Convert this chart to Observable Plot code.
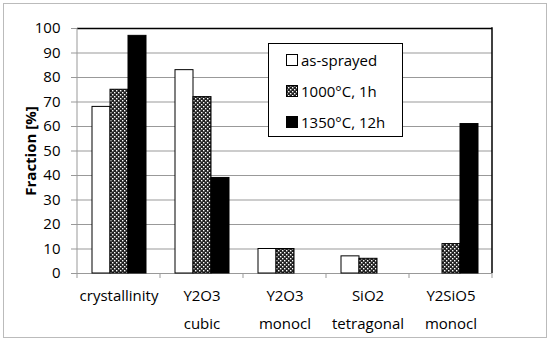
<!DOCTYPE html>
<html><head><meta charset="utf-8">
<script src="https://cdn.jsdelivr.net/npm/d3@7"></script>
<script src="https://cdn.jsdelivr.net/npm/@observablehq/plot@0.6"></script>
<style>
body{margin:0;background:#fff;font-family:"Open Sans",sans-serif;}
#wrap{position:relative;width:550px;height:341px;}
#border{position:absolute;left:3px;top:3px;width:542px;height:333px;border:1px solid #bbb;}
#chart{position:absolute;left:0;top:0;}
g[aria-label="y-axis label"] text{font-weight:bold;}
#legend{position:absolute;left:268px;top:43px;width:133px;height:92px;border:1.5px solid #000;background:#fff;font-size:15px;}
#legend .it{position:absolute;left:17px;display:flex;align-items:center;height:20px;}
#legend svg{margin-right:3px;}
</style></head>
<body><div id="wrap"><div id="border"></div><div id="chart"></div><div id="legend"></div></div>
<script>
const categories = ["crystallinity", "Y2O3\ncubic", "Y2O3\nmonocl", "SiO2\ntetragonal", "Y2SiO5\nmonocl"];
const series = ["as-sprayed", "1000°C, 1h", "1350°C, 12h"];
const asSprayed = [68, 83, 10, 7, 0];
const h1000 = [75, 72, 10, 6, 12];
const h1350 = [97, 39, 0, 0, 61];
const yTicks = [0, 10, 20, 30, 40, 50, 60, 70, 80, 90, 100];
const fills = ["white", "url(#hatch)", "black"];

const valuesBySeries = [asSprayed, h1000, h1350];
const rows = [];
series.forEach((s, si) => categories.forEach((c, ci) => {
  const v = valuesBySeries[si][ci];
  if (v > 0) rows.push({category: c, series: s, value: v});
}));

const plot = Plot.plot({
  width: 550, height: 341,
  marginLeft: 75, marginRight: 56, marginTop: 28, marginBottom: 68,
  style: {fontFamily: "'Open Sans', sans-serif", fontSize: "15px", color: "#000", background: "transparent"},
  fx: {domain: categories, padding: 0, label: null},
  x: {domain: series, paddingInner: 0, paddingOuter: 0.7, axis: null},
  y: {domain: [0, 100], label: null},
  color: {domain: series, range: fills},
  marks: [
    Plot.gridY(yTicks, {stroke: "#999", strokeOpacity: 1}),
    Plot.ruleY([0], {stroke: "#999"}),
    Plot.ruleY([100], {stroke: "#000", strokeWidth: 1.5}),
    Plot.barY(rows, {fx: "category", x: "series", y: "value", fill: "series", stroke: "#000", strokeWidth: 1}),
    Plot.axisY(yTicks, {tickSize: 6, tickPadding: 11, stroke: "#999", fontSize: 15, label: "Fraction [%]", labelAnchor: "center", labelOffset: 52, labelArrow: "none"}),
    Plot.axisFx({anchor: "bottom", tickSize: 0, tickPadding: 8, fontSize: 15, lineHeight: 1.85, label: null})
  ]
});
document.getElementById("chart").appendChild(plot);

const svg = d3.select(plot);
const defs = svg.insert("defs", ":first-child");
const pat = defs.append("pattern").attr("id", "hatch").attr("patternUnits", "userSpaceOnUse").attr("width", 4).attr("height", 4);
pat.append("rect").attr("width", 4).attr("height", 4).attr("fill", "#222");
pat.append("rect").attr("x", 0).attr("y", 0).attr("width", 1.4).attr("height", 1.4).attr("fill", "#fff");
pat.append("rect").attr("x", 2).attr("y", 2).attr("width", 1.4).attr("height", 1.4).attr("fill", "#fff");

const fx = plot.scale("fx"), y = plot.scale("y");
const y0 = y.apply(0), y100 = y.apply(100);
const xL = fx.apply(categories[0]);
const xR = fx.apply(categories[categories.length - 1]) + fx.bandwidth;
const g = svg.append("g");
g.append("line").attr("x1", xL).attr("x2", xL).attr("y1", y100).attr("y2", y0).attr("stroke", "#999");
g.append("line").attr("x1", xR).attr("x2", xR).attr("y1", y100 - 0.75).attr("y2", y0).attr("stroke", "#000").attr("stroke-width", 1.5);
categories.forEach(c => {
  const x = fx.apply(c);
  g.append("line").attr("x1", x).attr("x2", x).attr("y1", y0).attr("y2", y0 + 5).attr("stroke", "#999");
});
g.append("line").attr("x1", xR).attr("x2", xR).attr("y1", y0).attr("y2", y0 + 5).attr("stroke", "#999");

const leg = document.getElementById("legend");
series.forEach((s, i) => {
  const it = document.createElement("div");
  it.className = "it";
  it.style.top = (6 + i * 31) + "px";
  it.innerHTML = `<svg width="12" height="12"><rect x="0.5" y="0.5" width="11" height="11" fill="${fills[i]}" stroke="#000"/></svg><span>${s}</span>`;
  leg.appendChild(it);
});
</script></body></html>
